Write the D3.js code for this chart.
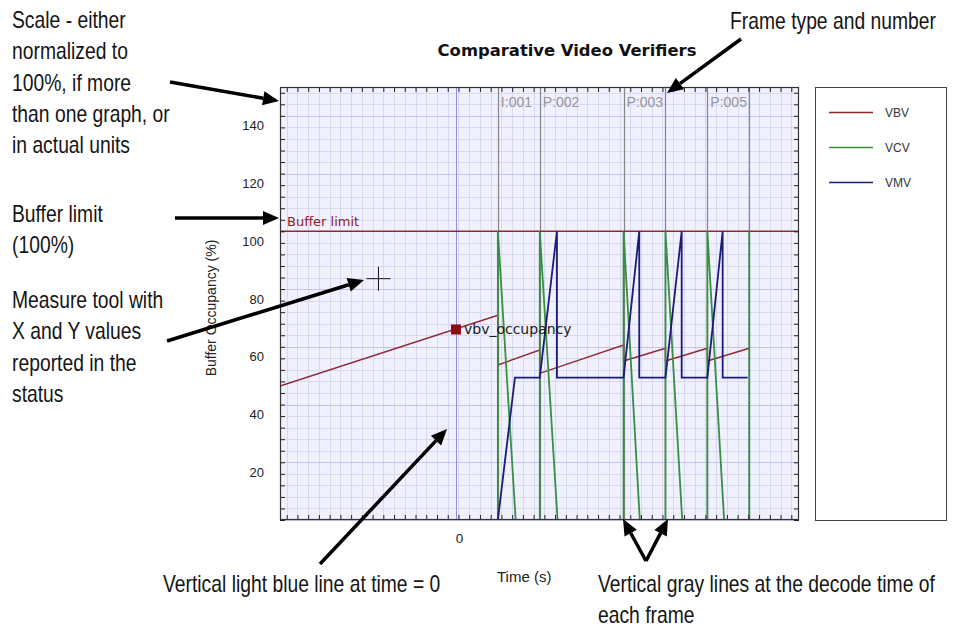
<!DOCTYPE html>
<html><head><meta charset="utf-8">
<script src="https://cdn.jsdelivr.net/npm/d3@7"></script>
<style>body{margin:0;background:#fff}svg{display:block}</style>
</head><body><svg id="c" width="953" height="628"></svg>
<script>
// ---------- data ----------
const chartTitle = "Comparative Video Verifiers";
const yAxisTitle = "Buffer Occupancy (%)";
const xAxisTitle = "Time (s)";
const yTickValues = [20, 40, 60, 80, 100, 120, 140];
const xTickValues = [0];
const frameTimes = [0.04, 0.08, 0.16, 0.20, 0.24, 0.28];
const frameLabels = ["I:001", "P:002", "P:003", "", "P:005", ""];
const bufferLimit = 100;
const bufferLabel = "Buffer limit";
const seriesNames = ["VBV", "VCV", "VMV"];

const vbvTimes  = [-0.168, 0.04, 0.04, 0.08, 0.08, 0.16, 0.16, 0.20, 0.20, 0.24, 0.24, 0.28];
const vbvValues = [46.4, 70.9, 53.7, 58.9, 50.8, 60.6, 55.1, 59.5, 55.1, 59.5, 55.1, 59.5];

const vcvTimes  = [0.04, 0.04, 0.057, 0.08, 0.08, 0.097, 0.16, 0.16, 0.1755, 0.20, 0.20, 0.216, 0.24, 0.24, 0.256, 0.28, 0.28];
const vcvValues = [0, 100, 0, 0, 100, 0, 0, 100, 0, 0, 100, 0, 0, 100, 0, 0, 100];

const vmvTimes  = [0.04, 0.0563, 0.08, 0.0964, 0.0964, 0.16, 0.175, 0.175, 0.20, 0.2155, 0.2155, 0.24, 0.2546, 0.2546, 0.2785];
const vmvValues = [0, 49.3, 49.3, 100, 49.3, 49.3, 100, 49.3, 49.3, 100, 49.3, 49.3, 100, 49.3, 49.3];

const markerTime = 0, markerValue = 66, markerLabel = "vbv_occupancy";
const cursorTime = -0.074, cursorValue = 83.6;

const xDomain = [-0.168, 0.3275];
const yDomain = [0, 150];
const yMinorStep = 4, yMajorStep = 20;
const xGridStart = -0.1616, xGridStep = 0.01025;

const annotations = [
  {x: 12, y: 28, lines: ["Scale - either", "normalized to", "100%, if more", "than one graph, or", "in actual units"]},
  {x: 12, y: 222, lines: ["Buffer limit", "(100%)"]},
  {x: 12, y: 308, lines: ["Measure tool with", "X and Y values", "reported in the", "status"]},
  {x: 730, y: 29, lines: ["Frame type and number"]},
  {x: 163, y: 592, lines: ["Vertical light blue line at time = 0"]},
  {x: 598, y: 592, lines: ["Vertical gray lines at the decode time of", "each frame"]}
];
const arrows = [
  [170, 82, 279, 101],
  [175, 218, 279, 218],
  [167, 341, 364, 280],
  [320, 564, 447, 429],
  [741, 39, 667, 93],
  [646, 561, 623, 519],
  [646, 561, 668, 519]
];

// ---------- layout ----------
const svg = d3.select("#c");
const W = 953, H = 628;
const plot = {left: 280, top: 87, right: 799, bottom: 520};
const colors = {VBV: "#8e2a2e", VCV: "#36903f", VMV: "#1b1b78"};

const x = d3.scaleLinear().domain(xDomain).range([plot.left, plot.right]);
const y = d3.scaleLinear().domain(yDomain).range([plot.bottom, plot.top]);

svg.append("rect").attr("width", W).attr("height", H).attr("fill", "#fff");

svg.append("rect").attr("x", plot.left).attr("y", plot.top)
  .attr("width", plot.right - plot.left).attr("height", plot.bottom - plot.top)
  .attr("fill", "#f0f0ff");

const gGrid = svg.append("g");
const xGrid = d3.range(xGridStart, xDomain[1], xGridStep);
const yMinor = d3.range(yDomain[0], yDomain[1] + 0.001, yMinorStep);
const yMajor = d3.range(yDomain[0], yDomain[1] + 0.001, yMajorStep);

gGrid.selectAll(".vx").data(xGrid).join("line")
  .attr("x1", d => Math.round(x(d)) + 0.5).attr("x2", d => Math.round(x(d)) + 0.5)
  .attr("y1", plot.top).attr("y2", plot.bottom)
  .attr("stroke", "#d8d8f3").attr("stroke-width", 1);
gGrid.selectAll(".hy").data(yMinor).join("line")
  .attr("x1", plot.left).attr("x2", plot.right)
  .attr("y1", d => Math.round(y(d)) + 0.5).attr("y2", d => Math.round(y(d)) + 0.5)
  .attr("stroke", "#d8d8f3").attr("stroke-width", 1);
gGrid.selectAll(".hY").data(yMajor).join("line")
  .attr("x1", plot.left).attr("x2", plot.right)
  .attr("y1", d => Math.round(y(d)) + 0.5).attr("y2", d => Math.round(y(d)) + 0.5)
  .attr("stroke", "#c2c2ec").attr("stroke-width", 1);

svg.selectAll(".zero").data(xTickValues).join("line")
  .attr("x1", d => Math.round(x(d)) + 0.5).attr("x2", d => Math.round(x(d)) + 0.5)
  .attr("y1", plot.top).attr("y2", plot.bottom)
  .attr("stroke", "#8f8fdc").attr("stroke-width", 1);

svg.selectAll(".fl").data(frameTimes).join("line")
  .attr("x1", d => Math.round(x(d)) + 0.5).attr("x2", d => Math.round(x(d)) + 0.5)
  .attr("y1", plot.top).attr("y2", plot.bottom)
  .attr("stroke", "#858585").attr("stroke-width", 1.2);
svg.selectAll(".ft").data(frameTimes).join("text")
  .attr("x", d => x(d) + 3).attr("y", 107)
  .attr("font-family", "Liberation Sans, Arial, sans-serif").attr("font-size", 14)
  .attr("fill", "#959595")
  .text((d, i) => frameLabels[i]);

svg.append("line").attr("x1", plot.left).attr("x2", plot.right)
  .attr("y1", y(bufferLimit)).attr("y2", y(bufferLimit))
  .attr("stroke", colors.VBV).attr("stroke-width", 1.5);
svg.append("text").attr("x", plot.left + 7).attr("y", y(bufferLimit) - 5)
  .attr("font-family", "DejaVu Sans, Verdana, sans-serif").attr("font-size", 13)
  .attr("fill", "#8a1e22").text(bufferLabel);

const line = d3.line().x(d => x(d[0])).y(d => y(d[1]));
const seriesData = {
  VBV: d3.zip(vbvTimes, vbvValues),
  VCV: d3.zip(vcvTimes, vcvValues),
  VMV: d3.zip(vmvTimes, vmvValues)
};
svg.append("clipPath").attr("id", "pc").append("rect")
  .attr("x", plot.left).attr("y", plot.top)
  .attr("width", plot.right - plot.left).attr("height", plot.bottom - plot.top);
const gS = svg.append("g").attr("clip-path", "url(#pc)");
["VBV", "VCV", "VMV"].forEach(k => {
  gS.append("path").datum(seriesData[k]).attr("d", line)
    .attr("fill", "none").attr("stroke", colors[k])
    .attr("stroke-width", k === "VBV" ? 1.4 : 1.8);
});

svg.append("rect").attr("x", x(markerTime) - 5).attr("y", y(markerValue) - 5)
  .attr("width", 10).attr("height", 10).attr("fill", "#8b0d0d");
svg.append("text").attr("x", x(markerTime) + 8).attr("y", y(markerValue) + 5)
  .attr("font-family", "DejaVu Sans, Verdana, sans-serif").attr("font-size", 14)
  .attr("fill", "#1a1a1a").text(markerLabel);

const minorY = d3.range(yDomain[0], yDomain[1], yMinorStep);
function clean(g) { g.select(".domain").remove(); g.selectAll(".tick line").attr("stroke", "#222"); }
svg.append("g").attr("transform", `translate(${plot.left},0)`)
  .call(d3.axisLeft(y).tickValues(minorY).tickSize(-5).tickFormat("")).call(clean);
svg.append("g").attr("transform", `translate(${plot.right},0)`)
  .call(d3.axisRight(y).tickValues(minorY).tickSize(-5).tickFormat("")).call(clean);
svg.append("g").attr("transform", `translate(0,${plot.top})`)
  .call(d3.axisTop(x).tickValues(xGrid).tickSize(-5).tickFormat("")).call(clean);
svg.append("g").attr("transform", `translate(0,${plot.bottom})`)
  .call(d3.axisBottom(x).tickValues(xGrid).tickSize(-5).tickFormat("")).call(clean);

const gyl = svg.append("g").attr("transform", `translate(${plot.left},0)`)
  .call(d3.axisLeft(y).tickValues(yTickValues).tickSize(0).tickPadding(16).tickFormat(d3.format("d")));
gyl.select(".domain").remove();
gyl.selectAll("text").attr("font-family", "Liberation Sans, Arial, sans-serif")
  .attr("font-size", 13).attr("fill", "#222").attr("dy", null).attr("y", 14);

const gxl = svg.append("g").attr("transform", `translate(0,${plot.bottom})`)
  .call(d3.axisBottom(x).tickValues(xTickValues).tickSize(0).tickFormat(d3.format("d")));
gxl.select(".domain").remove();
gxl.selectAll("text").attr("font-family", "Liberation Sans, Arial, sans-serif")
  .attr("font-size", 13.5).attr("fill", "#222").attr("dy", null).attr("y", 23).attr("dx", 3);

svg.append("rect").attr("x", plot.left + 0.5).attr("y", plot.top + 0.5)
  .attr("width", plot.right - plot.left - 1).attr("height", plot.bottom - plot.top - 1)
  .attr("fill", "none").attr("stroke", "#333").attr("stroke-width", 1.2);

const cx = x(cursorTime), cy = y(cursorValue);
svg.append("line").attr("x1", cx - 12).attr("x2", cx + 12).attr("y1", cy).attr("y2", cy).attr("stroke", "#111");
svg.append("line").attr("x1", cx).attr("x2", cx).attr("y1", cy - 12).attr("y2", cy + 12).attr("stroke", "#111");

svg.append("text").attr("x", 567).attr("y", 56).attr("text-anchor", "middle")
  .attr("font-family", "DejaVu Sans, Verdana, sans-serif").attr("font-weight", "bold")
  .attr("font-size", 16.4).attr("fill", "#111").text(chartTitle);
svg.append("text").attr("transform", "translate(216,308) rotate(-90)").attr("text-anchor", "middle")
  .attr("font-family", "Liberation Sans, Arial, sans-serif").attr("font-size", 14)
  .attr("fill", "#222").text(yAxisTitle);
svg.append("text").attr("x", 497).attr("y", 582)
  .attr("font-family", "Liberation Sans, Arial, sans-serif").attr("font-size", 15)
  .attr("fill", "#222").text(xAxisTitle);

svg.append("rect").attr("x", 815.5).attr("y", 87.5).attr("width", 131).attr("height", 433)
  .attr("fill", "#fff").attr("stroke", "#444").attr("stroke-width", 1);
const lg = svg.selectAll(".lg").data(seriesNames).join("g")
  .attr("transform", (d, i) => `translate(829,${112.5 + i * 35})`);
lg.append("line").attr("x1", 0).attr("x2", 44).attr("stroke", d => colors[d]).attr("stroke-width", 1.3);
lg.append("text").attr("x", 56).attr("y", 4).attr("font-family", "Liberation Sans, Arial, sans-serif")
  .attr("font-size", 12).attr("fill", "#333").text(d => d);

// annotations (condensed text via horizontal scaling)
const ga = svg.append("g");
annotations.forEach(a => {
  const t = ga.append("text").attr("transform", `translate(${a.x},0) scale(0.84,1)`)
    .attr("font-family", "Liberation Sans, Arial, sans-serif")
    .attr("font-size", 23).attr("fill", "#151515");
  a.lines.forEach((l, i) => t.append("tspan").attr("x", 0).attr("y", a.y + i * 31.3).text(l));
});
arrows.forEach(([x1, y1, x2, y2]) => {
  const ang = Math.atan2(y2 - y1, x2 - x1), L = 16, hw = 7;
  const bx = x2 - L * Math.cos(ang), by = y2 - L * Math.sin(ang);
  ga.append("line").attr("x1", x1).attr("y1", y1).attr("x2", bx).attr("y2", by)
    .attr("stroke", "#000").attr("stroke-width", 3.5);
  ga.append("path").attr("d", `M${x2},${y2}L${bx + hw * Math.sin(ang)},${by - hw * Math.cos(ang)}L${bx - hw * Math.sin(ang)},${by + hw * Math.cos(ang)}Z`)
    .attr("fill", "#000");
});
</script></body></html>
